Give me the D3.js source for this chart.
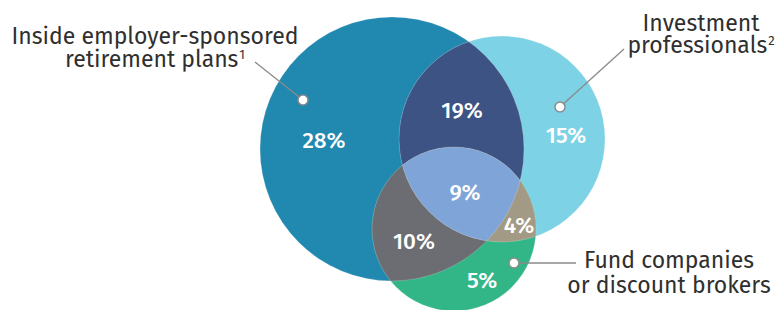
<!DOCTYPE html>
<html>
<head>
<meta charset="utf-8">
<script src="https://cdn.jsdelivr.net/npm/d3@7"></script>
<style>
  body { margin: 0; background: #fff; }
  svg { display: block; }
  text { font-family: "Fira Sans", "Open Sans", "Noto Sans", sans-serif; }
</style>
</head>
<body>
<div id="chart"></div>
<script>
// sets of the venn, one entry per circle
const sets = ["employer", "advisor", "fund"];
const setLabels = [
  ["Inside employer-sponsored", "retirement plans", "1"],
  ["Investment", "professionals", "2"],
  ["Fund companies", "or discount brokers", ""]
];
// regions (which sets they belong to) and their share
const regionSets = [["employer"], ["employer", "advisor"], ["advisor"], ["employer", "advisor", "fund"],
  ["employer", "fund"], ["advisor", "fund"], ["fund"]];
const regionValues = [28, 19, 15, 9, 10, 4, 5];
const regionColors = ["#2188b0", "#3d5384", "#7dd2e5", "#7fa4d7", "#6b6d72", "#a39a86", "#33b687"];

function draw() {
  const width = 781, height = 310;

  // circle layout, in pixels
  const circles = {
    employer: { cx: 392, cy: 149, r: 132 },
    advisor:  { cx: 502, cy: 139, r: 103 },
    fund:     { cx: 454, cy: 229, r: 82 }
  };
  // where each region's percentage sits
  const regionPos = [[324, 140], [462, 110], [566, 135], [465, 192], [414, 241], [519, 225], [482, 280]];
  // callout dots, leader line ends, label centre and baselines
  const callouts = [
    { dot: [303, 100], end: [255, 62], x: 155, y: [44, 67] },
    { dot: [560, 107], end: [624, 49], x: 701, y: [31, 53] },
    { dot: [514, 263], end: [576, 263], x: 669, y: [268, 293] }
  ];

  const svg = d3.select("#chart").append("svg")
    .attr("width", width)
    .attr("height", height);

  const defs = svg.append("defs");
  sets.forEach(s => {
    defs.append("clipPath").attr("id", "clip-" + s)
      .append("circle")
      .attr("cx", circles[s].cx).attr("cy", circles[s].cy).attr("r", circles[s].r);
  });

  const g = svg.append("g");

  // each region = last circle of the region clipped by the others
  const order = d3.range(regionSets.length).sort((a, b) => regionSets[a].length - regionSets[b].length);
  order.forEach(i => {
    const ss = regionSets[i];
    let parent = g;
    ss.slice(0, -1).forEach(s => {
      parent = parent.append("g").attr("clip-path", "url(#clip-" + s + ")");
    });
    const c = circles[ss[ss.length - 1]];
    parent.append("circle")
      .attr("cx", c.cx).attr("cy", c.cy).attr("r", c.r)
      .attr("fill", regionColors[i]);
  });

  // faint seams on the arcs
  sets.forEach(s => {
    g.append("circle")
      .attr("cx", circles[s].cx).attr("cy", circles[s].cy).attr("r", circles[s].r)
      .attr("fill", "none")
      .attr("stroke", "rgba(255,255,255,0.25)")
      .attr("stroke-width", 0.8);
  });

  // percentages
  svg.selectAll("text.pct")
    .data(regionValues)
    .join("text")
    .attr("class", "pct")
    .attr("x", (d, i) => regionPos[i][0])
    .attr("y", (d, i) => regionPos[i][1])
    .attr("dy", "0.36em")
    .attr("text-anchor", "middle")
    .attr("fill", "#fff")
    .attr("font-size", 22.5)
    .attr("font-weight", 500)
    .text(d => d + "%");

  // callouts
  callouts.forEach((co, i) => {
    svg.append("line")
      .attr("x1", co.dot[0]).attr("y1", co.dot[1])
      .attr("x2", co.end[0]).attr("y2", co.end[1])
      .attr("stroke", "#8a8a8a")
      .attr("stroke-width", 1.3);
    svg.append("circle")
      .attr("cx", co.dot[0]).attr("cy", co.dot[1]).attr("r", 5)
      .attr("fill", "#fff")
      .attr("stroke", "#8a8a8a")
      .attr("stroke-width", 1.5);

    const lab = setLabels[i];
    svg.append("text")
      .attr("x", co.x).attr("y", co.y[0])
      .attr("text-anchor", "middle")
      .attr("fill", "#2f2f2f")
      .attr("font-size", 23)
      .text(lab[0]);

    const l2 = svg.append("text")
      .attr("y", co.y[1])
      .attr("text-anchor", "start")
      .attr("fill", "#2f2f2f")
      .attr("font-size", 23)
      .text(lab[1]);
    let sup = null;
    if (lab[2]) {
      sup = svg.append("text")
        .attr("y", co.y[1] - 8)
        .attr("text-anchor", "start")
        .attr("fill", "#2f2f2f")
        .attr("font-size", 13)
        .text(lab[2]);
    }
    const w1 = l2.node().getComputedTextLength();
    const w2 = sup ? sup.node().getComputedTextLength() + 1 : 0;
    const x0 = co.x - (w1 + w2) / 2;
    l2.attr("x", x0);
    if (sup) sup.attr("x", x0 + w1 + 1);
  });
}

window.onload = draw;
</script>
</body>
</html>
